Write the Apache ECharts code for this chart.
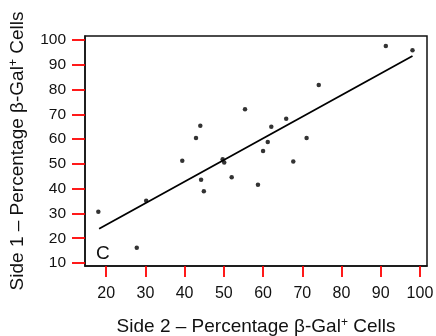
<!DOCTYPE html>
<html>
<head>
<meta charset="utf-8">
<script src="https://cdn.jsdelivr.net/npm/echarts@6/dist/echarts.min.js"></script>
<style>
  html, body { margin: 0; padding: 0; background: #fff; }
  #chart { width: 436px; height: 336px; }
</style>
</head>
<body>
<div id="chart"></div>
<script>
// side 2 (x) vs side 1 (y), percentage of beta-Gal+ cells
const side2 = [18.0, 27.8, 30.2, 39.4, 42.9, 44.0, 44.2, 44.9, 49.7, 50.1, 52.0,
  55.4, 58.7, 60.0, 61.2, 62.1, 65.9, 67.7, 71.1, 74.2, 91.3, 98.1]
const side1 = [30.7, 16.2, 35.1, 51.3, 60.4, 65.4, 43.6, 39.0, 51.9, 50.6, 44.6,
  72.0, 41.6, 55.2, 58.8, 65.0, 68.2, 51.0, 60.4, 81.8, 97.6, 95.9]
// fitted line, read at both ends
const fitX = [18.2, 98.1]
const fitY = [23.8, 93.5]
const xTicks = [20, 30, 40, 50, 60, 70, 80, 90, 100]
const yTicks = [10, 20, 30, 40, 50, 60, 70, 80, 90, 100]
const panelLabel = 'C'

const font = 'Liberation Sans, Arial, Helvetica, sans-serif'
const nameRich = {
  a: { fontFamily: font, fontSize: 19, color: '#111' },
  sup: { fontFamily: font, fontSize: 12, color: '#111', verticalAlign: 'top', padding: [0, 0, 8, 0] }
}

const el = document.getElementById('chart')
const chart = echarts.init(el)
const option = {
  animation: false,
  grid: {
    left: 85,
    right: 9,
    top: 36,
    bottom: 70,
    show: true,
    borderColor: '#111',
    borderWidth: 1.5,
    outerBoundsMode: 'none'
  },
  xAxis: {
    type: 'value',
    min: 14.6,
    max: 101.8,
    name: '{a|Side 2 – Percentage β-Gal}{sup|+}{a| Cells}',
    nameLocation: 'middle',
    nameGap: 51,
    nameTextStyle: { rich: nameRich },
    splitLine: { show: false },
    axisLine: { show: true, lineStyle: { color: '#111', width: 1.5 } },
    axisTick: { show: true, length: 11, customValues: xTicks, lineStyle: { color: 'red', width: 1.8 } },
    axisLabel: { customValues: xTicks, fontFamily: font, fontSize: 16, color: '#111', margin: 20 }
  },
  yAxis: {
    type: 'value',
    min: 8.8,
    max: 101.6,
    name: '{a|Side 1 – Percentage β-Gal}{sup|+}{a| Cells}',
    nameLocation: 'middle',
    nameGap: 57,
    nameRotate: 90,
    nameTextStyle: { rich: nameRich },
    splitLine: { show: false },
    axisLine: { show: true, lineStyle: { color: '#111', width: 1.5 } },
    axisTick: { show: true, length: 13, customValues: yTicks, lineStyle: { color: 'red', width: 1.8 } },
    axisLabel: { customValues: yTicks, fontFamily: font, fontSize: 15.5, color: '#111', margin: 19 }
  },
  graphic: [
    {
      type: 'text',
      left: 96,
      top: 244,
      style: { text: panelLabel, font: '19px ' + font, fill: '#111' }
    }
  ],
  series: [
    {
      type: 'scatter',
      symbol: 'circle',
      symbolSize: 4.5,
      itemStyle: { color: '#000' },
      data: side2.map((x, i) => [x, side1[i]])
    },
    {
      type: 'line',
      symbol: 'none',
      lineStyle: { color: '#000', width: 1.8 },
      data: fitX.map((x, i) => [x, fitY[i]])
    }
  ]
}
chart.setOption(option)
</script>
</body>
</html>
